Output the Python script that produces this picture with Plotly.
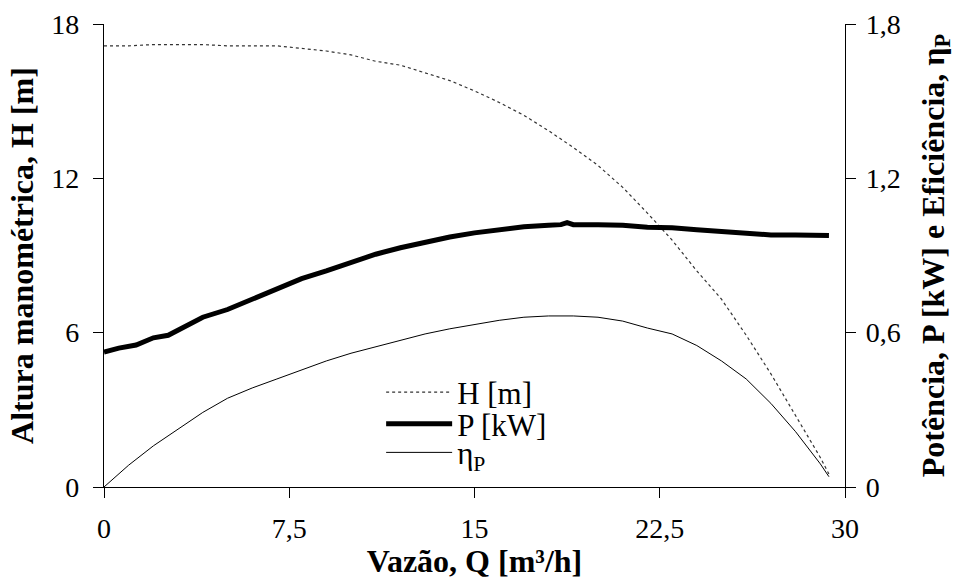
import plotly.graph_objects as go

# Data
q_h = [0, 1, 2, 3, 4, 5, 6, 7, 8, 9, 10, 11, 12, 13, 14, 15, 16, 17, 18, 19, 20,
       21, 22, 23, 24, 25, 26, 27, 28, 29, 29.35]
h_m = [17.15, 17.15, 17.2, 17.2, 17.2, 17.15, 17.15, 17.15, 17.05, 16.95, 16.8, 16.55,
       16.4, 16.1, 15.8, 15.4, 14.95, 14.45, 13.85, 13.2, 12.5, 11.65, 10.65, 9.6, 8.4,
       7.3, 5.9, 4.4, 2.75, 1.15, 0.5]

q_p = [0, 0.6, 1.3, 2, 2.6, 3.3, 4, 5, 6, 7, 8, 9, 10, 11, 12, 13, 14, 15, 16, 17,
       18, 18.5, 18.75, 19, 20, 21, 22, 23, 24, 25, 26, 26.5, 27, 28, 29, 29.35]
p_kw = [0.525, 0.54, 0.552, 0.58, 0.59, 0.625, 0.66, 0.69, 0.73, 0.77, 0.81, 0.84,
        0.875, 0.905, 0.93, 0.952, 0.972, 0.988, 1.002, 1.012, 1.018, 1.02, 1.028,
        1.02, 1.02, 1.018, 1.01, 1.008, 1.0, 0.992, 0.988, 0.98, 0.98, 0.98, 0.977, 0.978]

q_eta = [0, 1, 2, 3, 4, 5, 6, 7, 8, 9, 10, 11, 12, 13, 14, 15, 16, 17, 18, 19, 20,
         21, 22, 23, 24, 25, 26, 27, 28, 29, 29.35]
eta = [0, 0.085, 0.16, 0.225, 0.29, 0.345, 0.385, 0.42, 0.455, 0.49, 0.52, 0.545,
       0.57, 0.595, 0.615, 0.632, 0.648, 0.66, 0.665, 0.665, 0.66, 0.645, 0.618,
       0.595, 0.55, 0.49, 0.42, 0.325, 0.215, 0.09, 0.04]

x_ticks = [0, 7.5, 15, 22.5, 30]
x_ticktext = ["0", "7,5", "15", "22,5", "30"]
yl_ticks = [0, 6, 12, 18]
yl_ticktext = ["0", "6", "12", "18"]
yr_ticks = [0, 0.6, 1.2, 1.8]
yr_ticktext = ["0", "0,6", "1,2", "1,8"]

FONT = "Liberation Serif"

fig = go.Figure()
fig.add_trace(go.Scatter(x=q_h, y=h_m, mode="lines", name="H [m]", legend="legend",
                         line=dict(color="#333333", width=1.2, dash="dot")))
fig.add_trace(go.Scatter(x=q_p, y=p_kw, mode="lines", name="P [kW]", yaxis="y2",
                         legend="legend2", line=dict(color="black", width=5)))
fig.add_trace(go.Scatter(x=q_eta, y=eta, mode="lines", name="η<sub>P</sub>", yaxis="y2",
                         legend="legend3", line=dict(color="black", width=1)))

axis_common = dict(showgrid=False, zeroline=False, showline=True, linecolor="black",
                   linewidth=1.2, ticks="outside", ticklen=10, tickcolor="black",
                   tickwidth=1.2, automargin=False,
                   tickfont=dict(family=FONT, size=28, color="black"))

leg_common = dict(xanchor="left", yanchor="middle", bgcolor="rgba(0,0,0,0)",
                  font=dict(family=FONT, size=31, color="black"), itemwidth=66,
                  borderwidth=0)

fig.update_layout(
    width=957, height=579,
    margin=dict(l=104, r=112, t=24, b=92),
    paper_bgcolor="white", plot_bgcolor="white",
    font=dict(family=FONT, size=28, color="black"),
    showlegend=True,
    legend=dict(x=0.374, y=0.204, **leg_common),
    legend2=dict(x=0.374, y=0.136, **leg_common),
    legend3=dict(x=0.374, y=0.074, **leg_common),
    xaxis=dict(range=[0, 30], tickvals=x_ticks, ticktext=x_ticktext,
               ticklabelstandoff=6,
               title=dict(text="<b>Vazão, Q [m³/h]</b>", standoff=2,
                          font=dict(family=FONT, size=32)),
               **axis_common),
    yaxis=dict(range=[0, 18], tickvals=yl_ticks, ticktext=yl_ticktext,
               ticklabelstandoff=8,
               title=dict(text="<b>Altura manométrica, H [m]</b>", standoff=8,
                          font=dict(family=FONT, size=32)),
               **axis_common),
    yaxis2=dict(range=[0, 1.8], tickvals=yr_ticks, ticktext=yr_ticktext,
                overlaying="y", side="right", anchor="x", ticklabelstandoff=4,
                title=dict(text="<b>Potência, P [kW] e Eficiência, η<sub>P</sub></b>",
                           standoff=21, font=dict(family=FONT, size=32)),
                **axis_common),
)

fig.write_html("out.html", config={"displayModeBar": False},
               post_script="document.body.style.margin='0px';")
